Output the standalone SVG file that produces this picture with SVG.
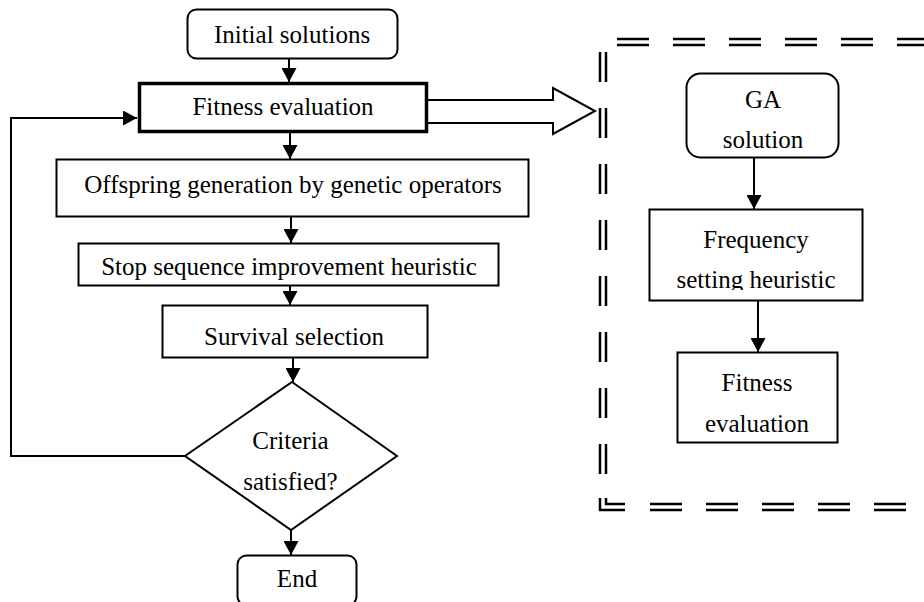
<svg xmlns="http://www.w3.org/2000/svg" width="924" height="602" viewBox="0 0 924 602">
<style>
.box{fill:#fff;stroke:#000;stroke-width:2}
.t{font-family:"Liberation Serif","Times New Roman",serif;font-size:25px;fill:#000;text-anchor:middle}
.c{fill:none;stroke:#000;stroke-width:2}
.dh{fill:none;stroke:#000;stroke-width:2.5;stroke-dasharray:32 24}
.dv{fill:none;stroke:#000;stroke-width:2.5;stroke-dasharray:30 26}
</style>
<defs>
<marker id="ah" markerUnits="userSpaceOnUse" markerWidth="15" markerHeight="15" refX="14" refY="7.5" orient="auto">
<path d="M0,0 L14,7.5 L0,15 z" fill="#000"/>
</marker>
<clipPath id="fclip"><rect x="640" y="200" width="240" height="90"/></clipPath>
</defs>
<g id="connectors">
<line class="c" x1="289" y1="58" x2="289" y2="82" marker-end="url(#ah)"/>
<line class="c" x1="290" y1="133" x2="290" y2="159" marker-end="url(#ah)"/>
<line class="c" x1="291" y1="217" x2="291" y2="243" marker-end="url(#ah)"/>
<line class="c" x1="290" y1="286" x2="290" y2="305" marker-end="url(#ah)"/>
<line class="c" x1="293" y1="358" x2="293" y2="382" marker-end="url(#ah)"/>
<line class="c" x1="291" y1="530" x2="291" y2="555" marker-end="url(#ah)"/>
<polyline class="c" points="185,456 11,456 11,118 137,118" marker-end="url(#ah)"/>
<path d="M428,100 H553 V88 L595,111 L553,134 V123 H428" fill="#fff" stroke="#000" stroke-width="2" stroke-linejoin="miter"/>
<line class="c" x1="754" y1="158" x2="754" y2="209" marker-end="url(#ah)"/>
<line class="c" x1="758" y1="301" x2="758" y2="352" marker-end="url(#ah)"/>
</g>
<g id="border">
<line class="dh" x1="617" y1="39" x2="930" y2="39"/>
<line class="dh" x1="617" y1="45" x2="930" y2="45"/>
<line class="dv" x1="600" y1="52" x2="600" y2="476"/>
<line class="dv" x1="606" y1="52" x2="606" y2="476"/>
<path d="M600,498 V510 H625 M606,498 V504 H625" fill="none" stroke="#000" stroke-width="2.5"/>
<line class="dh" x1="650" y1="504" x2="930" y2="504"/>
<line class="dh" x1="650" y1="510" x2="930" y2="510"/>
</g>
<g id="initial">
<rect class="box" x="187.5" y="9.5" width="210" height="49" rx="9"/>
<text class="t" x="292" y="43">Initial solutions</text>
</g>
<g id="fitness">
<rect class="box" x="139.5" y="83.5" width="287" height="48" style="stroke-width:3.5"/>
<text class="t" x="283" y="115">Fitness evaluation</text>
</g>
<g id="offspring">
<rect class="box" x="56.5" y="159.5" width="472" height="57"/>
<text class="t" x="293" y="193">Offspring generation by genetic operators</text>
</g>
<g id="stop">
<rect class="box" x="78.5" y="243.5" width="420" height="42"/>
<text class="t" x="289" y="275">Stop sequence improvement heuristic</text>
</g>
<g id="survival">
<rect class="box" x="162.5" y="305.5" width="265" height="52"/>
<text class="t" x="294" y="345">Survival selection</text>
</g>
<g id="criteria">
<polygon class="box" points="292,382 397,456 291,530 185,456"/>
<text class="t" x="290.5" y="449">Criteria</text>
<text class="t" x="290.5" y="490">satisfied?</text>
</g>
<g id="end">
<rect class="box" x="237.5" y="555.5" width="119" height="50" rx="9"/>
<text class="t" x="297" y="587">End</text>
</g>
<g id="ga">
<rect class="box" x="686.5" y="73.5" width="152" height="84" rx="14"/>
<text class="t" x="763" y="108">GA</text>
<text class="t" x="763" y="148">solution</text>
</g>
<g id="frequency">
<rect class="box" x="649.5" y="209.5" width="213" height="91"/>
<text class="t" x="756" y="248">Frequency</text>
<text class="t" x="756" y="288" clip-path="url(#fclip)">setting heuristic</text>
</g>
<g id="fitness2">
<rect class="box" x="677.5" y="352.5" width="160" height="90"/>
<text class="t" x="757" y="391">Fitness</text>
<text class="t" x="757" y="432">evaluation</text>
</g>
</svg>
